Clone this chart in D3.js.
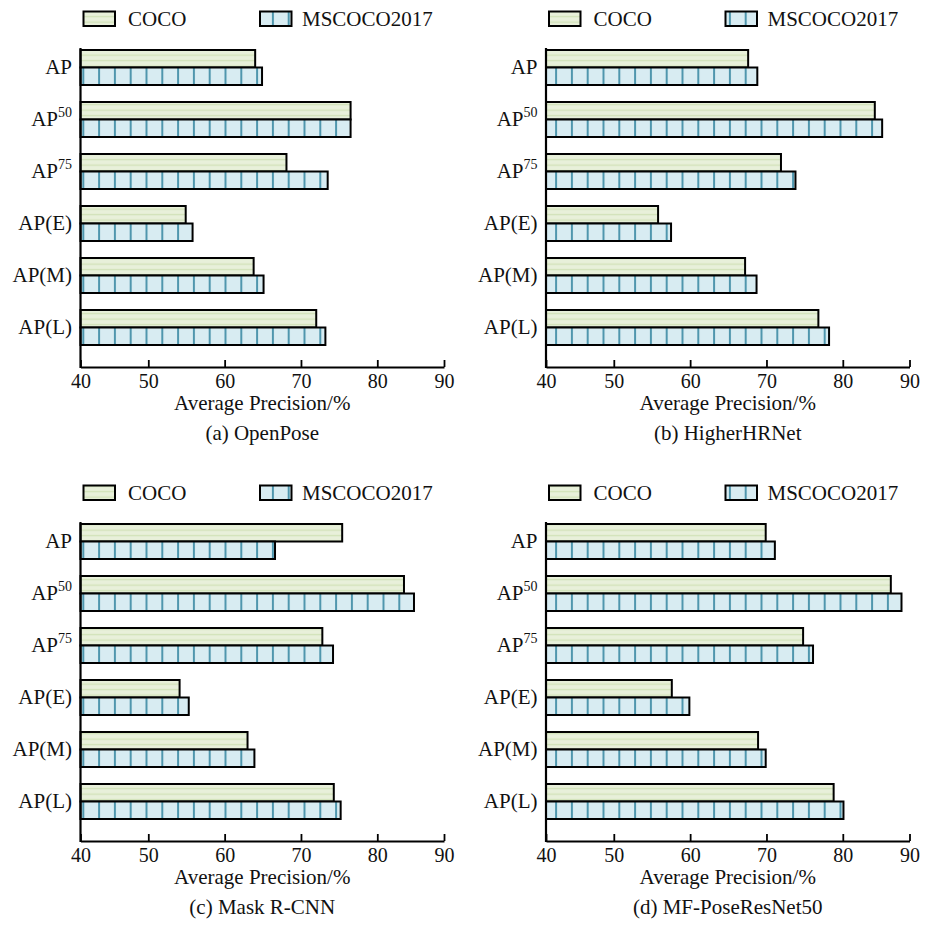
<!DOCTYPE html>
<html>
<head>
<meta charset="utf-8">
<script src="https://cdn.jsdelivr.net/npm/d3@7"></script>
<style>
  html, body { margin: 0; padding: 0; background: #fff; }
  svg text { font-family: "Liberation Serif", "Times New Roman", Times, "DejaVu Serif", serif; fill: #111; }
</style>
</head>
<body>
<svg id="chart" width="941" height="927"></svg>
<script>
const SERIF = '"Liberation Serif", "Times New Roman", Times, "DejaVu Serif", serif';

// Category labels (base text + superscript)
const labelBase = ["AP", "AP", "AP", "AP(E)", "AP(M)", "AP(L)"];
const labelSup  = ["", "50", "75", "", "", ""];
const categories = ["AP", "AP50", "AP75", "AP(E)", "AP(M)", "AP(L)"];

// Series names
const seriesNames = ["COCO", "MSCOCO2017"];

// Panel titles
const panelTitles = ["(a) OpenPose", "(b) HigherHRNet", "(c) Mask R-CNN", "(d) MF-PoseResNet50"];

// Average precision values per model
const openposeCOCO      = [64.0, 76.5, 68.1, 54.9, 63.8, 72.0];
const openposeMSCOCO    = [64.9, 76.5, 73.5, 55.8, 65.1, 73.2];
const higherhrCOCO      = [67.6, 84.8, 71.9, 55.8, 67.2, 76.8];
const higherhrMSCOCO    = [68.8, 85.9, 73.8, 57.5, 68.7, 78.2];
const maskrcnnCOCO      = [75.4, 84.0, 72.8, 54.1, 63.0, 74.3];
const maskrcnnMSCOCO    = [66.6, 85.5, 74.2, 55.3, 63.9, 75.2];
const mfposeCOCO        = [69.9, 87.2, 74.8, 57.6, 68.9, 78.8];
const mfposeMSCOCO      = [71.1, 88.8, 76.1, 59.9, 69.9, 80.1];

// Axis ticks
const xTicks = [40, 50, 60, 70, 80, 90];
const xTitle = "Average Precision/%";

const panels = [
  { title: panelTitles[0], coco: openposeCOCO, ms: openposeMSCOCO, ox: 0,     oy: 0 },
  { title: panelTitles[1], coco: higherhrCOCO, ms: higherhrMSCOCO, ox: 465.5, oy: 0 },
  { title: panelTitles[2], coco: maskrcnnCOCO, ms: maskrcnnMSCOCO, ox: 0,     oy: 474 },
  { title: panelTitles[3], coco: mfposeCOCO,   ms: mfposeMSCOCO,   ox: 465.5, oy: 474 }
];

const svg = d3.select("#chart");
const defs = svg.append("defs");

// Fill patterns: horizontal green stripes, vertical teal lines
panels.forEach((p, i) => {
  const g = defs.append("pattern")
    .attr("id", "pc" + i).attr("patternUnits", "userSpaceOnUse")
    .attr("x", 0).attr("y", p.oy + 1.5).attr("width", 10).attr("height", 5.5);
  g.append("rect").attr("width", 10).attr("height", 5.5).attr("fill", "#e8f0da");
  g.append("rect").attr("y", 3.5).attr("width", 10).attr("height", 1.3).attr("fill", "#d2e2b8");

  const b = defs.append("pattern")
    .attr("id", "pm" + i).attr("patternUnits", "userSpaceOnUse")
    .attr("x", p.ox + 82.3).attr("y", 0).attr("width", 15.8).attr("height", 10);
  b.append("rect").attr("width", 15.8).attr("height", 10).attr("fill", "#d8ecf2");
  b.append("rect").attr("x", 0).attr("width", 2).attr("height", 10).attr("fill", "#4f96ad");
});

// Shared geometry within one panel
const axisY = 367;
const axisTop = 48;

const x = d3.scaleLinear()
  .domain([40, 50, 80, 90])
  .range([80.5, 148.3, 377.3, 444]);

const y = d3.scaleBand()
  .domain(categories)
  .range([41.5, 353.5])
  .paddingInner(0.327)
  .paddingOuter(0.1635);

const barH = y.bandwidth() / 2;

function serifText(sel, size) {
  return sel.attr("font-family", SERIF).style("font-family", SERIF).attr("font-size", size);
}

panels.forEach((p, i) => {
  const g = svg.append("g").attr("transform", `translate(${p.ox},${p.oy})`);

  // Legend
  const leg = g.append("g");
  leg.append("rect").attr("x", 83.5).attr("y", 11.5).attr("width", 31.5).attr("height", 14.5)
    .attr("fill", `url(#pc${i})`).attr("stroke", "#000").attr("stroke-width", 2);
  serifText(leg.append("text").attr("x", 128).attr("y", 25.5), 21).text(seriesNames[0]);
  leg.append("rect").attr("x", 260).attr("y", 11.5).attr("width", 31.5).attr("height", 14.5)
    .attr("fill", `url(#pm${i})`).attr("stroke", "#000").attr("stroke-width", 2);
  serifText(leg.append("text").attr("x", 302).attr("y", 25.5), 21).text(seriesNames[1]);

  // Bars
  g.selectAll(".bc").data(categories).join("rect")
    .attr("x", x(40))
    .attr("y", d => y(d))
    .attr("width", (d, k) => x(p.coco[k]) - x(40))
    .attr("height", barH)
    .attr("fill", `url(#pc${i})`).attr("stroke", "#000").attr("stroke-width", 2);

  g.selectAll(".bm").data(categories).join("rect")
    .attr("x", x(40))
    .attr("y", d => y(d) + barH)
    .attr("width", (d, k) => x(p.ms[k]) - x(40))
    .attr("height", barH)
    .attr("fill", `url(#pm${i})`).attr("stroke", "#000").attr("stroke-width", 2);

  // Left axis line
  g.append("line").attr("x1", x(40)).attr("x2", x(40)).attr("y1", axisTop).attr("y2", axisY + 1)
    .attr("stroke", "#000").attr("stroke-width", 2.2);

  // Category labels
  categories.forEach((c, k) => {
    const t = serifText(g.append("text"), 21)
      .attr("x", 72).attr("y", y(c) + y.bandwidth() / 2 + 6.5)
      .attr("text-anchor", "end");
    t.append("tspan").text(labelBase[k]);
    if (labelSup[k]) {
      t.append("tspan").attr("font-size", 14).attr("dy", -9).text(labelSup[k]);
    }
  });

  // Bottom axis
  const ax = g.append("g").attr("transform", `translate(0,${axisY})`)
    .call(d3.axisBottom(x).tickValues(xTicks).tickFormat(d3.format("d"))
      .tickSizeInner(-7).tickSizeOuter(0).tickPadding(7));
  ax.attr("font-family", SERIF);
  ax.select(".domain").attr("stroke", "#000").attr("stroke-width", 2.2);
  ax.selectAll(".tick line").attr("stroke", "#000").attr("stroke-width", 1.8);
  serifText(ax.selectAll(".tick text"), 20).attr("fill", "#111");

  // Axis title and panel caption
  serifText(g.append("text"), 21).attr("x", (x(40) + x(90)) / 2).attr("y", axisY + 43)
    .attr("text-anchor", "middle").text(xTitle);
  serifText(g.append("text"), 21).attr("x", (x(40) + x(90)) / 2).attr("y", axisY + 73)
    .attr("text-anchor", "middle").text(p.title);
});
</script>
</body>
</html>
